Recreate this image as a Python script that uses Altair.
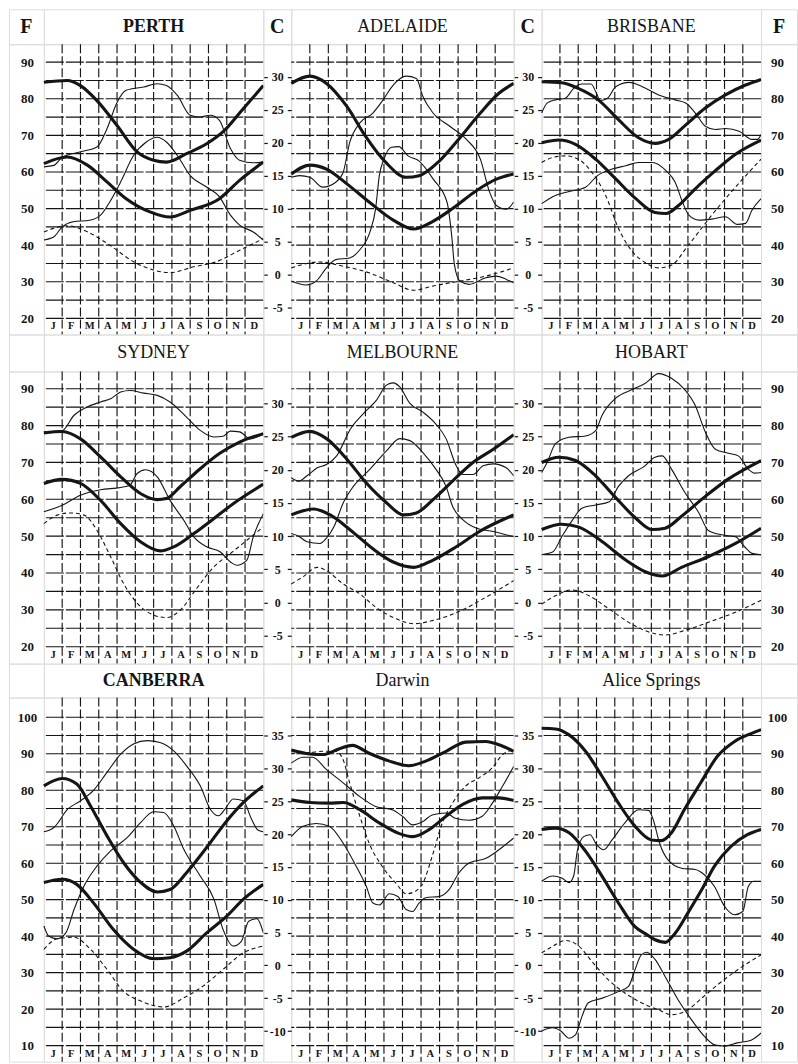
import altair as alt
import pandas as pd

MONTHS = ["J", "F", "M", "A", "M", "J", "J", "A", "S", "O", "N", "D"]

# Each series: (month position 0..12, value). Perth, Sydney, Canberra in °F; the rest in °C.
PERTH_MAX = [(0, 84.5), (1.27, 85), (2, 83.6), (2.9, 79.5), (4, 72.7), (5.1, 65.5), (6, 63.2), (6.7, 62.7), (7.8, 65), (8.9, 67.7), (9.8, 71), (10.9, 77.3), (12, 83.6)]
PERTH_MIN = [(0, 62.3), (1.27, 64.1), (2.4, 61.8), (3.45, 57.3), (4.5, 52.7), (5.8, 49.1), (6.9, 47.7), (8, 49.5), (9.6, 52.7), (10.7, 57.7), (12, 62.7)]
PERTH_TRACE_A = [(0, 61.4), (0.55, 61.8), (1, 64), (2, 65.5), (2.9, 66.8), (3.45, 71.8), (4, 79), (4.5, 82.3), (5.45, 83.2), (6.2, 84.1), (6.7, 83.6), (7.3, 80.9), (8, 75.5), (8.5, 75), (9.1, 75.5), (9.6, 74.1), (10.2, 66.4), (10.7, 63.2), (11.45, 62.5), (12, 62.7)]
PERTH_TRACE_B = [(0, 41.4), (0.55, 42.3), (1, 45), (1.6, 46.4), (2.5, 46.8), (3.1, 48.2), (3.6, 51.8), (4.2, 57.3), (4.9, 64.5), (5.6, 68.2), (6.2, 69.5), (6.7, 68.2), (7.3, 64.5), (8, 59), (8.9, 55.9), (9.6, 53.2), (10.2, 48.2), (10.7, 45.5), (11.45, 43.6), (12, 41.4)]
PERTH_DASH = [(0, 43.6), (1.27, 45.3), (2.4, 43.6), (3.6, 40), (4.9, 35.5), (6, 33.2), (6.9, 32.5), (8.2, 34.1), (9.45, 35.5), (10.7, 38.6), (12, 41.8)]

ADELAIDE_MAX = [(0, 29), (1, 30.1), (1.9, 29), (3, 25.5), (4, 21), (5.1, 17), (6.2, 14.75), (6.9, 15), (8, 17.25), (9.1, 20.75), (10.2, 24.5), (11.2, 27.5), (12, 29)]
ADELAIDE_MIN = [(0, 15.25), (1, 16.6), (1.9, 16), (3, 13.75), (4.2, 11), (5.5, 8.25), (6.6, 6.9), (7.6, 8), (8.7, 10), (10, 12.75), (11.1, 14.5), (12, 15.25)]
ADELAIDE_TRACE_A = [(0, 14.75), (0.45, 15), (1, 14.75), (1.7, 13.25), (2.4, 14), (2.8, 15.5), (3.15, 20), (3.7, 23), (4.4, 24.5), (4.95, 26.5), (5.5, 28.75), (6.2, 30.1), (6.75, 29.75), (7.1, 27), (7.65, 24.5), (8.55, 22.5), (9.45, 20.5), (10.2, 17.5), (10.7, 12.5), (11.05, 10.5), (11.6, 9.9), (12, 11)]
ADELAIDE_TRACE_B = [(0, -1), (0.8, -1.6), (1.35, -1), (1.9, 1), (2.4, 2.25), (3.15, 2.5), (3.7, 3.75), (4.25, 6.5), (4.55, 10), (4.75, 15), (5.0, 17.5), (5.4, 19.3), (5.8, 19.4), (6.3, 18), (6.9, 17.2), (7.65, 14.5), (8.4, 11), (8.65, 6), (8.8, 1.5), (9.1, -1), (9.6, -1.5), (10.5, -0.5), (11.05, -0.25), (11.6, -0.75), (12, -1.25)]
ADELAIDE_DASH = [(0, 1), (1.5, 1.9), (2.8, 1.25), (4.2, 0.25), (5.5, -1.25), (6.6, -2.4), (7.65, -1.75), (9.1, -1), (10.5, -0.25), (12, 1)]

BRISBANE_MAX = [(0, 29.25), (1.1, 29.1), (2, 28.25), (3.1, 26.5), (4.2, 23.5), (5.3, 20.75), (6.2, 19.9), (6.95, 20.5), (7.9, 22.75), (8.95, 25.25), (10.05, 27.25), (11.15, 28.75), (12, 29.6)]
BRISBANE_MIN = [(0, 20), (0.95, 20.4), (1.85, 19.75), (2.95, 17.5), (4.05, 14.5), (5.15, 11.5), (6.2, 9.4), (6.8, 9.25), (7.5, 10.5), (8.4, 13), (9.5, 15.75), (10.6, 18.25), (12, 20.4)]
BRISBANE_TRACE_A = [(0, 24.5), (0.3, 26), (0.75, 26.5), (1.3, 26.75), (1.75, 28.25), (2.2, 28.9), (2.7, 28.9), (3, 27.5), (3.2, 26.4), (3.6, 26.75), (4.05, 28.5), (4.8, 29.15), (5.5, 28.5), (6.4, 27.25), (7.3, 26.5), (7.9, 26), (8.4, 24.5), (8.95, 22.5), (9.5, 22), (10.05, 22.15), (10.8, 21.75), (11.5, 20.5), (11.8, 20.5), (12, 21.25)]
BRISBANE_TRACE_B = [(0, 10.75), (0.75, 12), (1.5, 12.6), (2.4, 13.25), (3.05, 15), (3.85, 16), (4.6, 16.5), (5.3, 17), (6.05, 17), (6.8, 15.75), (7.3, 14), (7.7, 11), (8.05, 9), (8.6, 8.25), (9.3, 8.4), (10.05, 8.75), (10.7, 7.6), (11.15, 7.75), (11.5, 9.75), (12, 11.5)]
BRISBANE_DASH = [(0, 17), (0.6, 17.75), (1.3, 18), (2, 17.5), (2.75, 15.5), (3.5, 12), (4.2, 7), (4.95, 3.5), (5.7, 1.75), (6.4, 1), (7.15, 1.5), (7.9, 4), (8.6, 6.5), (9.3, 9), (10.05, 11.5), (11, 14.5), (12, 17.5)]

SYDNEY_MAX = [(0, 78), (1, 78.4), (2, 76.4), (3.1, 71.5), (4.2, 66.1), (5.3, 61.5), (6.2, 59.9), (6.7, 60.2), (7.45, 63.4), (8.55, 68.3), (9.6, 72.4), (10.7, 75.5), (12, 77.8)]
SYDNEY_MIN = [(0, 64.3), (1, 65.4), (2, 64.3), (3.1, 59.7), (4.2, 53.4), (5.3, 48.4), (6.35, 46), (7.1, 47.1), (8.2, 50.7), (9.3, 54.8), (10.35, 58.8), (12, 64.1)]
SYDNEY_TRACE_A = [(0, 78.3), (1, 78.6), (1.65, 82.8), (2.35, 85), (3.1, 86.4), (3.65, 87.3), (4.2, 89.1), (4.7, 89.5), (5.45, 88.8), (6.2, 88.2), (6.9, 86.4), (7.8, 82.3), (8.55, 78.7), (9.3, 76.9), (9.8, 77.1), (10.2, 78.5), (10.7, 78.3), (11.3, 76.4), (12, 77.8)]
SYDNEY_TRACE_B = [(0, 56.6), (1, 58.4), (2, 61.1), (3.1, 62.6), (4.2, 63.2), (4.7, 63.8), (5.1, 67), (5.55, 68), (6.2, 66.1), (6.9, 59.7), (7.65, 54.3), (8.2, 49.8), (8.9, 47.1), (9.65, 45.7), (10.2, 43), (10.55, 42.1), (11.1, 43.5), (11.45, 49.8), (12, 56.1)]
SYDNEY_DASH = [(0, 53.4), (0.73, 55.7), (1.45, 56.3), (2.2, 55.7), (2.9, 51.6), (3.65, 44.4), (4.35, 37.2), (5.3, 30.8), (6, 28.6), (6.7, 27.9), (7.45, 29.9), (8.35, 35.8), (9.3, 41.7), (10.2, 45.3), (11.1, 48.9), (12, 52.5)]

MELBOURNE_MAX = [(0, 24.9), (1, 25.8), (1.9, 24.7), (3, 21.6), (4.05, 18), (5.15, 15), (6.05, 13.2), (6.75, 13.5), (7.65, 15.5), (8.7, 18.3), (9.8, 21.1), (10.9, 23.1), (12, 25.3)]
MELBOURNE_MIN = [(0, 13.2), (1.2, 14.1), (2.1, 13.2), (3.2, 10.9), (4.4, 8.1), (5.5, 6.1), (6.6, 5.3), (7.65, 6.4), (8.9, 8.4), (10.15, 10.7), (12, 13.2)]
MELBOURNE_TRACE_A = [(0, 18.8), (0.4, 18.3), (0.85, 19.1), (1.4, 20.3), (1.9, 20.8), (2.45, 22.1), (3.2, 26.2), (3.9, 28.5), (4.6, 30.5), (5.15, 32.8), (5.5, 33.1), (5.85, 32.5), (6.4, 30), (7.1, 28.7), (7.8, 26.9), (8.35, 24.7), (8.9, 20.6), (9.25, 19.3), (9.8, 19.3), (10.35, 20.6), (10.9, 20.9), (11.6, 20.3), (12, 19.1)]
MELBOURNE_TRACE_B = [(0, 10.4), (0.4, 10), (0.85, 9.15), (1.55, 8.9), (1.9, 9.7), (2.3, 11.4), (2.8, 15), (3.35, 17.5), (4.25, 20.1), (5.15, 22.9), (5.85, 24.7), (6.4, 24.4), (7.1, 22.6), (7.8, 20.1), (8.35, 17.5), (8.7, 14.5), (9.25, 12.5), (10, 11.2), (10.9, 10.7), (12, 9.9)]
MELBOURNE_DASH = [(0, 2.8), (0.65, 3.9), (1.4, 5.3), (1.9, 4.8), (2.8, 2.8), (3.7, 1.3), (4.6, -0.8), (5.7, -2.5), (6.6, -3.2), (7.65, -2.7), (9.1, -1.3), (10.5, 0.8), (12, 3.3)]

HOBART_MAX = [(0, 21.1), (0.95, 21.9), (1.85, 21.4), (2.95, 19.1), (4.05, 15.8), (5.15, 12.7), (6.05, 11), (6.75, 11.2), (7.65, 13), (8.95, 16), (10.2, 18.6), (12, 21.4)]
HOBART_MIN = [(0, 11), (1.1, 11.8), (2, 11.4), (3.3, 9.2), (4.6, 6.4), (5.7, 4.6), (6.6, 4), (7.65, 5.3), (9.1, 6.9), (10.6, 8.9), (12, 11.2)]
HOBART_TRACE_A = [(0, 19.6), (0.3, 21.1), (0.75, 23.9), (1.5, 24.9), (2.4, 25.1), (2.95, 25.9), (3.3, 28.2), (4.05, 30.8), (4.95, 32.1), (5.65, 33), (6.4, 34.5), (7.1, 33.8), (7.85, 32), (8.4, 29.7), (8.95, 25.7), (9.5, 23.1), (10.2, 22.5), (10.75, 22.1), (11.3, 20.1), (11.65, 19.5), (12, 19.6)]
HOBART_TRACE_B = [(0, 7.2), (0.6, 7.6), (1.1, 9.9), (1.7, 12.5), (2.2, 14.2), (2.95, 14.7), (3.7, 15.2), (4.2, 17.5), (4.75, 19.1), (5.65, 20.6), (6.2, 21.9), (6.6, 22.1), (7.1, 20.1), (7.85, 16.5), (8.6, 13.5), (9.1, 10.9), (9.85, 10.2), (10.6, 9.9), (11.1, 8.4), (11.5, 7.4), (12, 7.2)]
HOBART_DASH = [(0, -0.25), (0.75, 1), (1.65, 1.9), (2.6, 1), (3.7, -1), (4.95, -3.3), (6.05, -4.6), (6.75, -4.9), (7.85, -4.2), (9.3, -2.8), (10.75, -1.3), (12, 0.35)]

CANBERRA_MAX = [(0, 81.2), (1, 83.2), (1.8, 81.7), (2.55, 75.7), (3.45, 67.5), (4.35, 60.2), (5.3, 54.7), (6.2, 52.1), (6.9, 52.8), (7.8, 57.4), (8.9, 64.3), (10, 71.6), (10.9, 76.6), (12, 81.2)]
CANBERRA_MIN = [(0, 54.7), (1, 55.6), (1.8, 54.2), (2.7, 49.2), (3.8, 41.8), (4.9, 36.4), (6, 33.8), (6.9, 34.1), (7.8, 35.9), (8.9, 40.9), (10, 45.5), (10.9, 50.1), (12, 54.2)]
CANBERRA_TRACE_A = [(0, 68.6), (0.55, 69.8), (1.3, 74.8), (2, 77.1), (2.7, 79.9), (3.45, 84.9), (4.2, 89.9), (4.9, 92.7), (5.65, 93.6), (6.35, 93.1), (7.1, 90.8), (7.8, 86.7), (8.55, 81.2), (9.1, 74.8), (9.55, 73), (9.9, 74.8), (10.35, 77.6), (10.9, 77.1), (11.35, 72.1), (11.7, 69.1), (12, 68.6)]
CANBERRA_TRACE_B = [(0, 42.8), (0.27, 40), (0.73, 39.3), (1.2, 40.9), (1.65, 47.3), (2.2, 53.8), (2.9, 59.2), (3.65, 63.4), (4.55, 67), (5.3, 71.2), (6, 74.1), (6.55, 73.9), (7.1, 70.2), (7.65, 63.8), (8.55, 56.5), (9.3, 50.1), (9.8, 41.8), (10.35, 37.3), (10.8, 38.6), (11.2, 44.1), (11.65, 44.8), (12, 40.9)]
CANBERRA_DASH = [(0, 36.4), (0.73, 39.3), (1.65, 39.7), (2.55, 36.4), (3.45, 30.9), (4.35, 24.9), (5.3, 22.2), (6.55, 20.6), (7.65, 23.1), (8.7, 26.3), (9.8, 30.9), (10.9, 35.4), (12, 37.3)]

DARWIN_MAX = [(0, 32.8), (1, 32.2), (1.7, 32.1), (2.6, 33), (3.3, 33.5), (4.2, 32.3), (5.3, 31.1), (6.35, 30.4), (7.25, 31.1), (8.35, 32.6), (9.4, 34), (10.5, 34.1), (11.2, 33.6), (12, 32.6)]
DARWIN_MIN = [(0, 25.2), (1, 24.8), (2.05, 24.7), (2.8, 24.8), (3.7, 23.7), (4.75, 21.7), (5.8, 20.1), (6.55, 19.6), (7.45, 20.7), (8.35, 22.7), (9.25, 24.5), (10.3, 25.5), (11.2, 25.5), (12, 25.1)]
DARWIN_TRACE_A = [(0, 30.8), (0.63, 31.7), (1.15, 31.7), (1.9, 29.8), (2.8, 27.8), (3.7, 25.7), (4.55, 24.2), (5.45, 23.7), (6, 22.7), (6.55, 21.4), (7.1, 21.9), (7.6, 22.9), (8.35, 23.2), (8.85, 22.4), (9.6, 22.1), (10.3, 22.7), (10.85, 24.7), (11.4, 27.3), (12, 30.3)]
DARWIN_TRACE_B = [(0, 19.6), (0.63, 21.2), (1.35, 21.6), (2.05, 21.2), (2.8, 18.6), (3.5, 15.1), (4.05, 12), (4.4, 9.5), (4.75, 9.2), (5.3, 10.9), (5.75, 10.5), (6.2, 8.5), (6.55, 8.2), (6.9, 9.5), (7.25, 10.3), (8, 10.5), (8.5, 11.5), (9.05, 14.1), (9.6, 15.6), (10.5, 16.3), (11.2, 17.6), (12, 19.4)]
DARWIN_DASH = [(0, 32.3), (1, 32.4), (1.7, 32.6), (2.4, 32.6), (2.8, 31.3), (3.15, 27.8), (3.7, 22.7), (4.2, 18.6), (4.9, 15.1), (5.65, 12.5), (6.2, 10.9), (6.7, 11.3), (7.1, 12.5), (7.6, 16.6), (8.15, 21.7), (8.7, 24.7), (9.4, 27.3), (10.1, 28.5), (10.85, 30.1), (11.4, 32.1), (12, 32.8)]

ALICE_MAX = [(0, 36.1), (0.75, 36), (1.5, 35.1), (2.4, 32.6), (3.3, 28.8), (4.2, 24.7), (5.1, 21.2), (6, 19.1), (6.55, 19), (7.1, 20.2), (7.8, 23.7), (8.7, 27.8), (9.6, 31.8), (10.55, 34.1), (11.45, 35.3), (12, 35.9)]
ALICE_MIN = [(0, 20.7), (0.75, 20.9), (1.5, 20.2), (2.4, 17.4), (3.3, 13.6), (4.2, 9.5), (5.1, 5.9), (5.75, 4.7), (6.2, 3.9), (6.75, 3.5), (7.3, 4.9), (8, 8), (8.75, 11.5), (9.45, 15.1), (10.35, 18.1), (11.25, 19.9), (12, 20.7)]
ALICE_TRACE_A = [(0, 12.8), (0.6, 13.6), (1.1, 13.3), (1.5, 12.6), (1.75, 13.6), (1.95, 17.4), (2.3, 19.6), (2.65, 19.9), (3, 18.4), (3.4, 17.6), (3.85, 19.1), (4.55, 21.7), (5.3, 23.7), (5.85, 23.6), (6.1, 22.2), (6.45, 18.6), (6.9, 16.1), (7.65, 14.8), (8.4, 14.6), (8.9, 13.8), (9.45, 12), (10, 9), (10.55, 7.7), (11, 8.2), (11.3, 12), (11.6, 12.8), (12, 12.8)]
ALICE_TRACE_B = [(0, -10), (0.6, -9.5), (1.05, -10), (1.5, -11.1), (1.85, -10.6), (2.2, -7.8), (2.55, -5.7), (3.3, -5), (4.2, -4), (4.75, -3.2), (5.1, -0.7), (5.45, 1.6), (5.75, 2), (6.2, 0.9), (6.75, -1.7), (7.45, -5.2), (8.2, -8.3), (8.9, -10.8), (9.45, -12.1), (10, -12.3), (10.7, -11.8), (11.45, -11.4), (12, -10.3)]
ALICE_DASH = [(0, 1.9), (0.6, 2.9), (1.3, 3.8), (2.05, 2.9), (2.75, 0.6), (3.65, -2.2), (4.55, -4.2), (5.45, -5.7), (6.4, -6.8), (7.1, -7.5), (7.85, -7), (8.75, -5), (9.65, -2.9), (10.7, -0.7), (12, 1.6)]

# Grid of stations: (unit, max, min, trace a, trace b, dashed)
STATIONS = [
    [("F", PERTH_MAX, PERTH_MIN, PERTH_TRACE_A, PERTH_TRACE_B, PERTH_DASH),
     ("C", ADELAIDE_MAX, ADELAIDE_MIN, ADELAIDE_TRACE_A, ADELAIDE_TRACE_B, ADELAIDE_DASH),
     ("C", BRISBANE_MAX, BRISBANE_MIN, BRISBANE_TRACE_A, BRISBANE_TRACE_B, BRISBANE_DASH)],
    [("F", SYDNEY_MAX, SYDNEY_MIN, SYDNEY_TRACE_A, SYDNEY_TRACE_B, SYDNEY_DASH),
     ("C", MELBOURNE_MAX, MELBOURNE_MIN, MELBOURNE_TRACE_A, MELBOURNE_TRACE_B, MELBOURNE_DASH),
     ("C", HOBART_MAX, HOBART_MIN, HOBART_TRACE_A, HOBART_TRACE_B, HOBART_DASH)],
    [("F", CANBERRA_MAX, CANBERRA_MIN, CANBERRA_TRACE_A, CANBERRA_TRACE_B, CANBERRA_DASH),
     ("C", DARWIN_MAX, DARWIN_MIN, DARWIN_TRACE_A, DARWIN_TRACE_B, DARWIN_DASH),
     ("C", ALICE_MAX, ALICE_MIN, ALICE_TRACE_A, ALICE_TRACE_B, ALICE_DASH)],
]

HEADERS = [
    ["F", "PERTH", "C", "ADELAIDE", "C", "BRISBANE", "F"],
    ["", "SYDNEY", "", "MELBOURNE", "", "HOBART", ""],
    ["", "CANBERRA", "", "Darwin", "", "Alice Springs", ""],
]
BOLD_HEADERS = {"F", "C", "PERTH", "CANBERRA"}

# Row layout: °F range of each strip (the bottom band holds the month letters)
ROW_SPECS = [
    dict(header_h=35, plot_h=291, lo=15.6, hi=94.9, grid=list(range(20, 95, 5)),
         f_ticks=list(range(20, 91, 10)), c_ticks=list(range(-5, 31, 5))),
    dict(header_h=37, plot_h=293, lo=15.4, hi=94.7, grid=list(range(20, 95, 5)),
         f_ticks=list(range(20, 91, 10)), c_ticks=list(range(-5, 31, 5))),
    dict(header_h=34, plot_h=365, lo=5.6, hi=105.4, grid=list(range(10, 105, 5)),
         f_ticks=list(range(10, 101, 10)), c_ticks=list(range(-10, 36, 5))),
]

COL_W = [35, 220, 28, 223, 28, 220, 36]
SERIF = "Liberation Serif"
INK = "#151515"
UNIT = alt.Scale(domain=[0, 1], nice=False, zero=False)


def to_f(unit, value):
    return value if unit == "F" else value * 1.8 + 32


def lines_frame(unit, series):
    recs = []
    for sid, pts in enumerate(series):
        for i, (m, v) in enumerate(pts):
            recs.append({"sid": sid, "i": i, "m": m, "f": to_f(unit, v)})
    return pd.DataFrame(recs)


def text_cell(text, width, height, **style):
    # one centred label inside a framed box
    return alt.Chart(pd.DataFrame({"t": [text], "p": [0.5]})).mark_text(
        baseline="middle", align="center", color=INK, **style
    ).encode(
        x=alt.X("p:Q", scale=UNIT, axis=None),
        y=alt.Y("p:Q", scale=UNIT, axis=None),
        text="t:N",
    ).properties(width=width, height=height)


def header_cell(text, width, height):
    weight = "bold" if text in BOLD_HEADERS else "normal"
    size = 20 if text in ("F", "C") else 18
    return text_cell(text, width, height, font=SERIF, fontSize=size, fontWeight=weight)


def panel(spec, station, col):
    unit, s_max, s_min, s_a, s_b, s_dash = station
    width = COL_W[2 * col + 1]
    xs = alt.Scale(domain=[0, 12], nice=False, zero=False)
    ys = alt.Scale(domain=[spec["lo"], spec["hi"]], nice=False, zero=False)

    hgrid = alt.Chart(pd.DataFrame({"g": spec["grid"]})).mark_rule(
        color=INK, strokeWidth=1.15, strokeDash=[18, 2]
    ).encode(y=alt.Y("g:Q", scale=ys, axis=None))

    vgrid = alt.Chart(pd.DataFrame({"b": list(range(1, 12))})).mark_rule(
        color=INK, strokeWidth=1.15, strokeDash=[9, 3]
    ).encode(x=alt.X("b:Q", scale=xs, axis=None))

    band_mid = spec["grid"][0] - (spec["grid"][0] - spec["lo"]) / 2
    months = alt.Chart(pd.DataFrame({
        "m": [i + 0.5 for i in range(12)], "lab": MONTHS, "y": [band_mid] * 12
    })).mark_text(font=SERIF, fontSize=10.5, fontWeight="bold", color=INK,
                  baseline="middle").encode(
        x=alt.X("m:Q", scale=xs, axis=None),
        y=alt.Y("y:Q", scale=ys, axis=None),
        text="lab:N")

    def line_layer(series, **style):
        return alt.Chart(lines_frame(unit, series)).mark_line(
            interpolate="monotone", color=INK, **style
        ).encode(
            x=alt.X("m:Q", scale=xs, axis=None),
            y=alt.Y("f:Q", scale=ys, axis=None),
            detail="sid:N", order="i:Q")

    thick = line_layer([s_max, s_min], strokeWidth=3.1)
    thin = line_layer([s_a, s_b], strokeWidth=1.1)
    dashed = line_layer([s_dash], strokeWidth=1.1, strokeDash=[4, 3])

    c_vals = [c * 1.8 + 32 for c in spec["c_ticks"]]
    common = dict(domain=False, grid=False, title=None, labelOverlap=False,
                  labelFont=SERIF, labelColor=INK, labelFontWeight="bold",
                  tickColor=INK, tickWidth=1.2, labelBaseline="middle",
                  labelAlign="center")
    f_left = alt.Axis(orient="left", values=spec["f_ticks"], ticks=False, tickSize=0,
                      labelPadding=17, labelFontSize=13, **common)
    f_right = alt.Axis(orient="right", values=spec["f_ticks"], ticks=False, tickSize=0,
                       labelPadding=16, labelFontSize=13, **common)
    c_right = alt.Axis(orient="right", values=c_vals, ticks=True, tickSize=4,
                       labelPadding=10, labelFontSize=12,
                       labelExpr="'' + round((datum.value - 32) / 1.8)", **common)
    c_left = alt.Axis(orient="left", values=c_vals, ticks=True, tickSize=4,
                      labels=False, **common)

    def axis_layer(values, axis):
        return alt.Chart(pd.DataFrame({"v": values, "p": [0] * len(values)})).mark_tick(
            opacity=0, size=1).encode(
            x=alt.X("p:Q", scale=xs, axis=None),
            y=alt.Y("v:Q", scale=ys, axis=axis))

    if col == 0:
        axes = [axis_layer(spec["f_ticks"], f_left), axis_layer(c_vals, c_right)]
    elif col == 1:
        axes = [axis_layer(c_vals, c_left), axis_layer(c_vals, c_right)]
    else:
        axes = [axis_layer(c_vals, c_left), axis_layer(spec["f_ticks"], f_right)]

    return alt.layer(hgrid, vgrid, months, dashed, thin, thick, *axes).resolve_axis(
        y="independent").properties(width=width, height=spec["plot_h"])


# 7 columns x 6 rows (a header strip above each row of three stations)
cells = []
for r, spec in enumerate(ROW_SPECS):
    for k in range(7):
        cells.append(header_cell(HEADERS[r][k], COL_W[k], spec["header_h"]))
    for k in range(7):
        if k % 2 == 1:
            cells.append(panel(spec, STATIONS[r][k // 2], k // 2))
        else:
            cells.append(text_cell("", COL_W[k], spec["plot_h"]))

chart = alt.concat(*cells, columns=7, spacing=0, bounds="flush", align="each").properties(
    padding={"left": 8, "top": 7, "right": 0, "bottom": 0}
).configure_view(stroke=INK, strokeWidth=1.3).configure(background="white")

chart.save("out.html", embed_options={"renderer": "svg", "actions": False})
